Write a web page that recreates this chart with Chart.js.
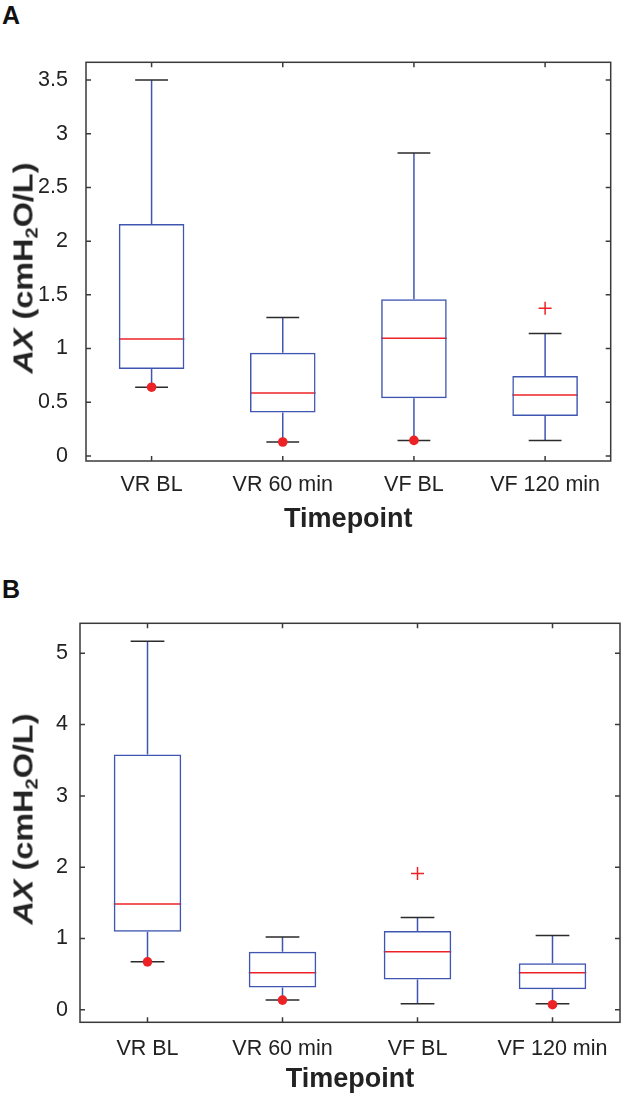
<!DOCTYPE html>
<html>
<head>
<meta charset="utf-8">
<script src="https://cdn.jsdelivr.net/npm/chart.js@4.4.1/dist/chart.umd.min.js"></script>
<style>
  html, body { margin:0; padding:0; background:#fff; width:628px; height:1098px; overflow:hidden;
    font-family:"Liberation Sans", Arial, sans-serif; }
  canvas { position:absolute; left:0; }
  .letter { position:absolute; font-weight:bold; font-size:25px; line-height:1; color:#111; }
  .ytitle { position:absolute; font-weight:bold; font-size:27px; line-height:1; color:#222; white-space:nowrap;
    transform: translate(-50%,-50%) rotate(-90deg) scaleX(1.2); }
  .ytitle sub { font-size:0.62em; vertical-align:-0.3em; line-height:0; }
</style>
</head>
<body>
<div class="letter" style="left:2px; top:3px;">A</div>
<div class="letter" style="left:2px; top:577px;">B</div>
<canvas id="chartA" width="628" height="549" style="top:0px;"></canvas>
<canvas id="chartB" width="628" height="549" style="top:549px;"></canvas>
<div class="ytitle" style="left:24px; top:268px;"><i>AX</i> (cmH<sub>2</sub>O/L)</div>
<div class="ytitle" style="left:24px; top:819px;"><i>AX</i> (cmH<sub>2</sub>O/L)</div>
<script>
const categories = ['VR BL', 'VR 60 min', 'VF BL', 'VF 120 min'];
const xTitle = 'Timepoint';

// Panel A
const aMin      = [0.64, 0.13, 0.145, 0.143];
const aQ1       = [0.81, 0.405, 0.537, 0.372];
const aMedian   = [1.09, 0.585, 1.096, 0.568];
const aQ3       = [2.16, 0.96, 1.46, 0.745];
const aMax      = [3.5, 1.29, 2.82, 1.139];
const aDots     = [0.64, 0.13, 0.145, null];
const aOutliers = [null, null, null, 1.375];
const aYTicks   = [0, 0.5, 1, 1.5, 2, 2.5, 3, 3.5];

// Panel B
const bMin      = [0.673, 0.136, 0.084, 0.084];
const bQ1       = [1.095, 0.313, 0.425, 0.29];
const bMedian   = [1.485, 0.519, 0.813, 0.519];
const bQ3       = [3.58, 0.813, 1.107, 0.654];
const bMax      = [5.17, 1.02, 1.294, 1.042];
const bDots     = [0.673, 0.136, null, 0.072];
const bOutliers = [null, null, 1.91, null];
const bYTicks   = [0, 1, 2, 3, 4, 5];

const BLUE = '#3f56b0';
const RED = '#ec2227';
const CAPC = '#2b2b2b';
const FRAME = '#3a3a3a';
const TEXT = '#222';
const FONT = '"Liberation Sans", Arial, sans-serif';

function boxPartsPlugin(s) {
  return {
    id: 'boxParts',
    beforeDatasetsDraw(chart) {
      const x = chart.scales.x, y = chart.scales.y, ctx = chart.ctx;
      const step = x.getPixelForValue(1) - x.getPixelForValue(0);
      const boxHalf = step * 0.25, capHalf = step * 0.125;
      ctx.save();
      ctx.lineWidth = 1.5;
      s.min.forEach((mn, i) => {
        const cx = x.getPixelForValue(i);
        ctx.strokeStyle = BLUE;
        ctx.beginPath();
        ctx.moveTo(cx, y.getPixelForValue(s.q3[i])); ctx.lineTo(cx, y.getPixelForValue(s.max[i]));
        ctx.moveTo(cx, y.getPixelForValue(s.q1[i])); ctx.lineTo(cx, y.getPixelForValue(mn));
        ctx.stroke();
        ctx.strokeStyle = CAPC;
        ctx.beginPath();
        [s.max[i], mn].forEach(v => {
          const py = y.getPixelForValue(v);
          ctx.moveTo(cx - capHalf, py); ctx.lineTo(cx + capHalf, py);
        });
        ctx.stroke();
        ctx.strokeStyle = RED;
        ctx.beginPath();
        const pm = y.getPixelForValue(s.med[i]);
        ctx.moveTo(cx - boxHalf, pm); ctx.lineTo(cx + boxHalf, pm);
        ctx.stroke();
      });
      ctx.restore();
    },
    afterDraw(chart) {
      const {left, right, top, bottom} = chart.chartArea;
      const x = chart.scales.x, y = chart.scales.y, ctx = chart.ctx;
      const tl = 5;
      ctx.save();
      ctx.strokeStyle = FRAME;
      ctx.lineWidth = 1.5;
      ctx.strokeRect(left, top, right - left, bottom - top);
      ctx.beginPath();
      categories.forEach((c, i) => {
        const px = x.getPixelForValue(i);
        ctx.moveTo(px, bottom); ctx.lineTo(px, bottom - tl);
        ctx.moveTo(px, top); ctx.lineTo(px, top + tl);
      });
      s.yTicks.forEach(v => {
        const py = y.getPixelForValue(v);
        ctx.moveTo(left, py); ctx.lineTo(left + tl, py);
        ctx.moveTo(right, py); ctx.lineTo(right - tl, py);
      });
      ctx.stroke();
      ctx.restore();
    }
  };
}

function makePanel(id, s) {
  return new Chart(document.getElementById(id), {
    type: 'bar',
    data: {
      labels: categories,
      datasets: [
        { type: 'line', data: s.dots, showLine: false, pointStyle: 'circle', pointRadius: 4.8,
          pointBackgroundColor: RED, pointBorderColor: RED, pointBorderWidth: 0, order: 0 },
        { type: 'line', data: s.outliers, showLine: false, pointStyle: 'cross', pointRadius: 6.5,
          pointBorderColor: RED, pointBorderWidth: 1.5, order: 0 },
        { type: 'bar', data: s.q1.map((v, i) => [v, s.q3[i]]), backgroundColor: 'rgba(0,0,0,0)',
          borderColor: BLUE, borderWidth: 1.5, borderSkipped: false, categoryPercentage: 1,
          barPercentage: 0.5, grouped: false, order: 2 }
      ]
    },
    options: {
      responsive: false, animation: false, devicePixelRatio: 1,
      layout: { padding: { top: s.padTop, right: s.padRight, left: 0, bottom: 0 } },
      plugins: { legend: { display: false }, tooltip: { enabled: false } },
      scales: {
        x: {
          type: 'category', offset: true,
          grid: { display: false, drawTicks: false }, border: { display: false },
          ticks: { font: { family: FONT, size: 21.5 }, color: TEXT, padding: s.xTickPad,
                   maxRotation: 0, autoSkip: false },
          title: { display: true, text: xTitle, color: TEXT,
                   font: { family: FONT, size: 27, weight: 'bold' },
                   padding: { top: 0, bottom: s.titlePad } },
          afterFit: sc => { sc.height = s.xAxisH; }
        },
        y: {
          type: 'linear', min: s.ymin, max: s.ymax,
          grid: { display: false, drawTicks: false }, border: { display: false },
          ticks: { font: { family: FONT, size: 21.5 }, color: TEXT, padding: s.yTickPad,
                   callback: v => String(v) },
          afterBuildTicks: sc => { sc.ticks = s.yTicks.map(v => ({ value: v })); },
          afterFit: sc => { sc.width = s.yAxisW; }
        }
      }
    },
    plugins: [boxPartsPlugin(s)]
  });
}

makePanel('chartA', {
  min: aMin, q1: aQ1, med: aMedian, q3: aQ3, max: aMax, dots: aDots, outliers: aOutliers,
  yTicks: aYTicks, ymin: -0.047, ymax: 3.665,
  padTop: 62.3, padRight: 17.3, yAxisW: 86, xAxisH: 88,
  xTickPad: 11.4, yTickPad: 18, titlePad: 12.8
});

makePanel('chartB', {
  min: bMin, q1: bQ1, med: bMedian, q3: bQ3, max: bMax, dots: bDots, outliers: bOutliers,
  yTicks: bYTicks, ymin: -0.175, ymax: 5.42,
  padTop: 74.3, padRight: 3.3, yAxisW: 80, xAxisH: 75.7,
  xTickPad: 13.4, yTickPad: 12, titlePad: 1.8
});
</script>
</body>
</html>
